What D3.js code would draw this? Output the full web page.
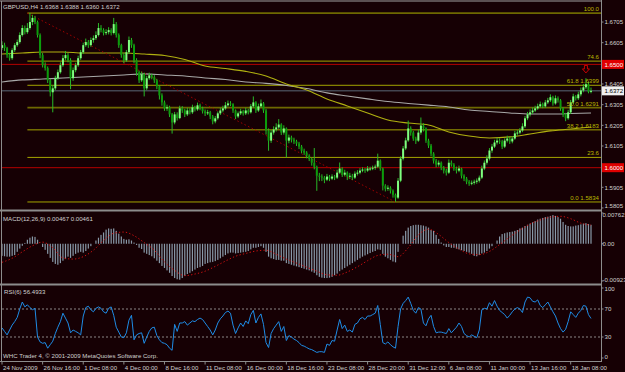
<!DOCTYPE html>
<html>
<head>
<meta charset="utf-8">
<script src="https://d3js.org/d3.v7.min.js"></script>
<style>
  html, body { margin: 0; padding: 0; background: #160004; }
  svg { display: block; font-family: "Liberation Sans", Arial, sans-serif; }
</style>
</head>
<body>
<div id="chart"></div>
<script>
// ---- data (GBPUSD H4, 24 Nov 2009 - 19 Jan 2010) ----
const firstOpen = 1.6580;

const closes = [
  1.6593,1.6579,1.6545,1.6530,1.6569,1.6593,1.6608,1.6642,1.6676,1.6656,
  1.6676,1.6705,1.6725,1.6705,1.6642,1.6545,1.6496,1.6482,1.6423,1.6365,
  1.6384,1.6433,1.6462,1.6496,1.6530,1.6545,1.6520,1.6433,1.6472,1.6496,
  1.6530,1.6559,1.6593,1.6608,1.6593,1.6618,1.6627,1.6642,1.6676,1.6666,
  1.6652,1.6656,1.6666,1.6652,1.6695,1.6642,1.6593,1.6545,1.6520,1.6559,
  1.6618,1.6593,1.6520,1.6462,1.6423,1.6452,1.6384,1.6433,1.6447,1.6438,
  1.6423,1.6394,1.6350,1.6316,1.6287,1.6292,1.6258,1.6219,1.6258,1.6240,
  1.6287,1.6277,1.6258,1.6277,1.6268,1.6292,1.6282,1.6302,1.6287,1.6273,
  1.6263,1.6268,1.6248,1.6224,1.6239,1.6263,1.6277,1.6287,1.6302,1.6311,
  1.6307,1.6277,1.6248,1.6263,1.6273,1.6263,1.6277,1.6268,1.6297,1.6316,
  1.6277,1.6297,1.6311,1.6277,1.6180,1.6131,1.6170,1.6185,1.6195,1.6209,
  1.6170,1.6190,1.6131,1.6146,1.6136,1.6127,1.6117,1.6102,1.6082,1.6073,
  1.6058,1.6043,1.6024,1.6004,1.5961,1.5957,1.5952,1.5942,1.5957,1.5947,
  1.5957,1.5952,1.5976,1.5996,1.5966,1.5976,1.5957,1.5961,1.5952,1.5971,
  1.5976,1.5986,1.5991,1.5986,1.5996,1.5996,1.6000,1.6005,1.6034,1.5996,
  1.5913,1.5898,1.5903,1.5889,1.5869,1.5855,1.5937,1.6044,1.6093,1.6132,
  1.6190,1.6170,1.6141,1.6131,1.6170,1.6204,1.6190,1.6131,1.6107,1.6068,
  1.6034,1.6015,1.6024,1.6000,1.5986,1.5976,1.6024,1.6015,1.5996,1.5986,
  1.5996,1.5961,1.5947,1.5932,1.5923,1.5927,1.5932,1.5937,1.5952,1.5996,
  1.6024,1.6044,1.6083,1.6102,1.6122,1.6131,1.6127,1.6102,1.6131,1.6141,
  1.6127,1.6141,1.6166,1.6170,1.6180,1.6200,1.6239,1.6258,1.6268,1.6277,
  1.6287,1.6297,1.6307,1.6297,1.6316,1.6326,1.6341,1.6311,1.6336,1.6326,
  1.6287,1.6258,1.6239,1.6268,1.6316,1.6345,1.6336,1.6355,1.6374,1.6389,
  1.6404,1.6368,1.6372
];

const highs = [
  1.6612,1.6605,1.6585,1.6556,1.6578,1.6603,1.6620,1.6655,1.6690,1.6688,
  1.6700,1.6749,1.6740,1.6735,1.6712,1.6650,1.6555,1.6510,1.6490,1.6430,
  1.6400,1.6445,1.6475,1.6510,1.6545,1.6565,1.6555,1.6530,1.6485,1.6508,
  1.6542,1.6570,1.6605,1.6625,1.6618,1.6630,1.6640,1.6660,1.6700,1.6690,
  1.6675,1.6670,1.6680,1.6675,1.6725,1.6705,1.6650,1.6600,1.6555,1.6570,
  1.6635,1.6628,1.6600,1.6530,1.6470,1.6465,1.6460,1.6445,1.6460,1.6455,
  1.6448,1.6430,1.6400,1.6360,1.6325,1.6305,1.6300,1.6265,1.6270,1.6268,
  1.6300,1.6298,1.6285,1.6290,1.6288,1.6305,1.6300,1.6315,1.6310,1.6295,
  1.6282,1.6280,1.6275,1.6255,1.6250,1.6272,1.6290,1.6300,1.6318,1.6325,
  1.6322,1.6312,1.6282,1.6272,1.6285,1.6280,1.6290,1.6285,1.6308,1.6345,
  1.6322,1.6310,1.6330,1.6318,1.6285,1.6190,1.6182,1.6200,1.6215,1.6235,
  1.6215,1.6205,1.6195,1.6160,1.6155,1.6145,1.6135,1.6125,1.6110,1.6092,
  1.6080,1.6065,1.6050,1.6095,1.6010,1.5975,1.5968,1.5960,1.5970,1.5965,
  1.5968,1.5965,1.5990,1.6025,1.6002,1.5990,1.5982,1.5975,1.5970,1.5982,
  1.5988,1.5998,1.6002,1.5998,1.6008,1.6005,1.6010,1.6015,1.6068,1.6040,
  1.6000,1.5920,1.5915,1.5910,1.5895,1.5875,1.5950,1.6055,1.6105,1.6145,
  1.6228,1.6200,1.6178,1.6150,1.6185,1.6243,1.6215,1.6195,1.6140,1.6115,
  1.6075,1.6042,1.6035,1.6030,1.6008,1.5995,1.6040,1.6035,1.6022,1.6005,
  1.6010,1.6000,1.5968,1.5955,1.5940,1.5938,1.5942,1.5948,1.5962,1.6010,
  1.6035,1.6060,1.6095,1.6115,1.6135,1.6145,1.6142,1.6135,1.6142,1.6155,
  1.6150,1.6152,1.6178,1.6182,1.6192,1.6215,1.6250,1.6270,1.6282,1.6292,
  1.6300,1.6310,1.6320,1.6315,1.6328,1.6338,1.6355,1.6348,1.6350,1.6345,
  1.6332,1.6292,1.6265,1.6280,1.6328,1.6358,1.6352,1.6368,1.6388,1.6405,
  1.6433,1.6415,1.6388
];

const lows = [
  1.6570,1.6565,1.6532,1.6518,1.6522,1.6560,1.6585,1.6600,1.6635,1.6645,
  1.6648,1.6668,1.6690,1.6695,1.6630,1.6530,1.6485,1.6470,1.6410,1.6345,
  1.6268,1.6375,1.6425,1.6455,1.6488,1.6520,1.6510,1.6380,1.6420,1.6462,
  1.6488,1.6522,1.6550,1.6585,1.6580,1.6585,1.6605,1.6618,1.6635,1.6655,
  1.6640,1.6642,1.6645,1.6640,1.6645,1.6630,1.6580,1.6532,1.6505,1.6512,
  1.6550,1.6580,1.6505,1.6445,1.6410,1.6415,1.6345,1.6375,1.6425,1.6428,
  1.6410,1.6380,1.6330,1.6300,1.6275,1.6275,1.6245,1.6165,1.6210,1.6228,
  1.6235,1.6265,1.6245,1.6250,1.6258,1.6260,1.6272,1.6275,1.6278,1.6262,
  1.6250,1.6255,1.6235,1.6210,1.6215,1.6232,1.6255,1.6268,1.6280,1.6295,
  1.6298,1.6265,1.6235,1.6240,1.6255,1.6252,1.6255,1.6258,1.6262,1.6290,
  1.6265,1.6270,1.6290,1.6265,1.6160,1.6082,1.6120,1.6160,1.6175,1.6188,
  1.6158,1.6160,1.6049,1.6118,1.6122,1.6115,1.6105,1.6090,1.6070,1.6062,
  1.6045,1.6032,1.6010,1.5992,1.5888,1.5935,1.5935,1.5925,1.5935,1.5935,
  1.5940,1.5940,1.5945,1.5970,1.5955,1.5958,1.5940,1.5945,1.5940,1.5945,
  1.5962,1.5968,1.5978,1.5975,1.5980,1.5985,1.5988,1.5990,1.5998,1.5985,
  1.5890,1.5885,1.5888,1.5875,1.5855,1.5834,1.5848,1.5930,1.6035,1.6085,
  1.6125,1.6155,1.6130,1.6115,1.6125,1.6160,1.6175,1.6120,1.6095,1.6055,
  1.6020,1.6002,1.6005,1.5988,1.5972,1.5962,1.5970,1.6005,1.5985,1.5972,
  1.5978,1.5948,1.5935,1.5920,1.5912,1.5915,1.5918,1.5922,1.5928,1.5945,
  1.5988,1.6015,1.6035,1.6072,1.6095,1.6112,1.6115,1.6090,1.6095,1.6122,
  1.6115,1.6118,1.6135,1.6155,1.6162,1.6172,1.6192,1.6230,1.6248,1.6260,
  1.6270,1.6280,1.6290,1.6288,1.6290,1.6308,1.6318,1.6300,1.6305,1.6315,
  1.6275,1.6245,1.6225,1.6232,1.6260,1.6308,1.6325,1.6328,1.6345,1.6365,
  1.6380,1.6360,1.6360
];

// moving averages, one value every 8 bars
const maStep = 8;
const maYellow = [1.6550,1.6555,1.6560,1.6560,1.6555,1.6555,1.6555,1.6550,1.6543,1.6524,
  1.6492,1.6480,1.6466,1.6444,1.6405,1.6376,1.6333,1.6299,1.6265,1.6231,
  1.6216,1.6207,1.6173,1.6153,1.6144,1.6149,1.6163,1.6178,1.6187,1.6197];
const maGray = [1.6415,1.6425,1.6429,1.6434,1.6439,1.6444,1.6449,1.6454,1.6449,1.6444,
  1.6434,1.6427,1.6415,1.6408,1.6398,1.6383,1.6362,1.6347,1.6333,1.6320,
  1.6311,1.6303,1.6294,1.6279,1.6272,1.6265,1.6260,1.6260,1.6262,1.6265];

// Fibonacci retracement
const fibStartBar = 10, fibEndBar = 155;
const fibHigh = 1.6748, fibLow = 1.5834;
const fibLevels = [0, 23.6, 38.2, 50, 61.8, 74.6, 100];
const fibLabels = ["0.0 1.5834", "23.6", "38.2 1.6183", "50.0 1.6291", "61.8 1.6399", "74.6", "100.0"];

const redLevels = [1.6500, 1.6000];
const bidPrice = 1.6372;
const arrowBar = 230, arrowPrice = 1.6495;

// MACD(12,26,9)
const macd = [
  -0.0030,-0.0031,-0.0032,-0.0032,-0.0030,-0.0028,-0.0020,-0.0012,-0.0005,0.0002,
  0.0010,0.0015,0.0018,0.0017,0.0010,0.0000,-0.0008,-0.0015,-0.0025,-0.0035,
  -0.0045,-0.0050,-0.0052,-0.0048,-0.0042,-0.0038,-0.0032,-0.0035,-0.0030,-0.0025,
  -0.0022,-0.0020,-0.0022,-0.0018,-0.0012,-0.0006,0.0000,0.0008,0.0015,0.0022,
  0.0028,0.0035,0.0038,0.0037,0.0038,0.0032,0.0025,0.0018,0.0012,0.0010,
  0.0011,0.0008,0.0003,-0.0003,-0.0010,-0.0013,-0.0022,-0.0025,-0.0028,-0.0031,
  -0.0036,-0.0042,-0.0048,-0.0055,-0.0060,-0.0066,-0.0072,-0.0080,-0.0085,-0.0088,
  -0.0089,-0.0085,-0.0080,-0.0075,-0.0072,-0.0068,-0.0064,-0.0060,-0.0058,-0.0055,
  -0.0050,-0.0048,-0.0046,-0.0045,-0.0043,-0.0040,-0.0036,-0.0032,-0.0028,-0.0024,
  -0.0022,-0.0022,-0.0024,-0.0023,-0.0022,-0.0021,-0.0020,-0.0018,-0.0014,-0.0010,
  -0.0010,-0.0008,-0.0006,-0.0010,-0.0020,-0.0032,-0.0036,-0.0038,-0.0040,-0.0040,
  -0.0042,-0.0042,-0.0048,-0.0050,-0.0052,-0.0054,-0.0056,-0.0058,-0.0060,-0.0062,
  -0.0064,-0.0066,-0.0069,-0.0072,-0.0078,-0.0082,-0.0084,-0.0085,-0.0085,-0.0084,
  -0.0082,-0.0078,-0.0074,-0.0068,-0.0064,-0.0060,-0.0056,-0.0052,-0.0048,-0.0044,
  -0.0040,-0.0036,-0.0032,-0.0029,-0.0026,-0.0023,-0.0020,-0.0018,-0.0014,-0.0015,
  -0.0025,-0.0032,-0.0036,-0.0040,-0.0044,-0.0046,-0.0020,0.0000,0.0020,0.0032,
  0.0040,0.0044,0.0046,0.0047,0.0047,0.0046,0.0045,0.0043,0.0040,0.0034,
  0.0032,0.0022,0.0012,0.0003,-0.0004,-0.0008,-0.0008,-0.0010,-0.0010,-0.0012,
  -0.0014,-0.0016,-0.0018,-0.0020,-0.0022,-0.0025,-0.0030,-0.0031,-0.0028,-0.0024,
  -0.0022,-0.0018,-0.0012,-0.0006,0.0000,0.0008,0.0018,0.0024,0.0026,0.0028,
  0.0029,0.0030,0.0032,0.0034,0.0038,0.0040,0.0044,0.0047,0.0050,0.0053,
  0.0056,0.0060,0.0062,0.0064,0.0066,0.0067,0.0069,0.0071,0.0069,0.0066,
  0.0062,0.0054,0.0047,0.0044,0.0043,0.0043,0.0045,0.0046,0.0048,0.0050,
  0.0051,0.0049,0.0047
];
// signal line, one value every 4 bars
const signalStep = 4;
const signal = [
  -0.0046,-0.0036,-0.0020,-0.0005,0.0004,-0.0010,-0.0035,-0.0038,-0.0032,-0.0016,
  0.0008,0.0026,0.0029,0.0020,0.0003,-0.0016,-0.0045,-0.0066,-0.0079,-0.0075,
  -0.0068,-0.0056,-0.0043,-0.0031,-0.0024,-0.0018,-0.0016,-0.0026,-0.0038,-0.0048,
  -0.0058,-0.0068,-0.0077,-0.0078,-0.0070,-0.0057,-0.0042,-0.0029,-0.0026,-0.0032,
  -0.0010,0.0022,0.0036,0.0023,0.0003,-0.0013,-0.0025,-0.0027,-0.0019,-0.0002,
  0.0017,0.0034,0.0049,0.0059,0.0066,0.0068,0.0062,0.0051,0.0046
];
const macdTicks = [0.00762, 0, -0.00923];
const macdTickLabels = ["0.00762", "0.00", "-0.00923"];

// RSI(6)
const rsi = [
  43,38,33,40,47,52,58,70,80,73, 76,72,69,71,30,23,21,22,14,19,
  24,35,44,52,64,57,50,36,40,38, 36,33,60,72,74,69,66,71,73,71,
  66,64,71,73,61,44,37,30,29,36, 54,61,26,33,35,36,21,30,38,43,
  44,32,26,22,21,19,14,11,48,38, 50,50,52,47,50,53,52,55,57,55,
  50,45,40,33,40,50,56,60,65,67, 64,47,35,43,50,45,53,49,62,68,
  50,58,63,48,22,15,35,42,47,52, 38,45,25,32,30,27,25,22,18,17,
  15,13,12,10,8,9,9,8,20,18, 25,24,40,55,42,47,38,40,37,48,
  50,56,58,55,60,60,62,64,75,48, 22,20,23,19,16,14,45,70,78,82,
  87,78,68,64,72,70,50,46,56,61, 45,36,37,37,36,35,42,36,40,44,
  50,45,35,32,30,33,31,29,40,69, 71,70,79,74,82,74,68,65,62,57,
  61,66,70,72,70,65,80,87,86,81, 80,83,75,72,76,80,73,66,60,50,
  42,37,41,52,66,62,58,64,68,75, 74,62,56.49
];
const rsiLevels = [70, 30];
const rsiTicks = [100, 70, 30, 0];

const priceTicks = [1.6705, 1.6605, 1.6405, 1.6305, 1.6205, 1.6105, 1.5905, 1.5805];
const dateLabelStep = 16;
const dateLabels = ["24 Nov 2009", "26 Nov 16:00", "1 Dec 08:00", "4 Dec 00:00", "8 Dec 16:00",
  "11 Dec 08:00", "16 Dec 00:00", "18 Dec 16:00", "23 Dec 08:00", "28 Dec 20:00",
  "31 Dec 12:00", "6 Jan 08:00", "11 Jan 00:00", "13 Jan 16:00", "18 Jan 08:00"];

const titleText = "GBPUSD,H4 1.6368 1.6388 1.6360 1.6372";
const macdText = "MACD(12,26,9) 0.00467 0.00461";
const rsiText = "RSI(6) 56.4933";
const copyText = "WHC Trader 4, \u00A9 2001-2009 MetaQuotes Software Corp.";

// ---- layout ----
const W = 625, H = 372;
const axisX = 601;
const fs = 6.1;
const bg = "#160004", txt = "#d0d0d0";

const svg = d3.select("#chart").append("svg")
  .attr("width", W).attr("height", H)
  .style("font-size", fs + "px");

svg.append("rect").attr("width", W).attr("height", H).attr("fill", bg);

// scales
const n = closes.length;
const x = d3.scaleLinear().domain([0, n - 1]).range([2, 591]);
const yP = d3.scaleLinear().domain([1.5800, 1.6802]).range([209, 2]);
const yM = d3.scaleLinear().domain([-0.00923, 0.00762]).range([281, 213]);
const yR = d3.scaleLinear().domain([0, 100]).range([358, 288]);

// clip areas
const defs = svg.append("defs");
[["clipMain", 2, 209], ["clipMacd", 212, 283], ["clipRsi", 286, 360]].forEach(([id, t, b]) => {
  defs.append("clipPath").attr("id", id)
    .append("rect").attr("x", 2).attr("y", t).attr("width", axisX - 2).attr("height", b - t);
});

// ---------- main panel ----------
const main = svg.append("g").attr("clip-path", "url(#clipMain)");

// red price levels
main.selectAll(".red").data(redLevels).join("line")
  .attr("x1", 2).attr("x2", axisX)
  .attr("y1", d => yP(d)).attr("y2", d => yP(d))
  .attr("stroke", "#b40000").attr("stroke-width", 1);

// fibonacci levels
const fibPrice = l => fibLow + (fibHigh - fibLow) * l / 100;
main.selectAll(".fib").data(fibLevels).join("line")
  .attr("x1", x(fibStartBar)).attr("x2", axisX)
  .attr("y1", d => yP(fibPrice(d))).attr("y2", d => yP(fibPrice(d)))
  .attr("stroke", d => (d === 50 || d === 100) ? "#6e6800" : "#a4a400")
  .attr("stroke-width", d => (d === 50 || d === 100) ? 1.8 : 1);

// bid line
main.append("line")
  .attr("x1", 2).attr("x2", axisX)
  .attr("y1", yP(bidPrice)).attr("y2", yP(bidPrice))
  .attr("stroke", "#5a6878").attr("stroke-width", 1);

// moving averages
const maLine = d3.line()
  .x((d, i) => x(Math.min(i * maStep, n - 1)))
  .y(d => yP(d))
  .curve(d3.curveMonotoneX);
main.append("path").attr("d", maLine(maGray))
  .attr("fill", "none").attr("stroke", "#a8a8a8").attr("stroke-width", 1.1);
main.append("path").attr("d", maLine(maYellow))
  .attr("fill", "none").attr("stroke", "#b0b010").attr("stroke-width", 1.1);

// fibonacci trend line
main.append("line")
  .attr("x1", x(fibStartBar)).attr("y1", yP(fibHigh))
  .attr("x2", x(fibEndBar)).attr("y2", yP(fibLow))
  .attr("stroke", "#a00000").attr("stroke-width", 1)
  .attr("stroke-dasharray", "1.5,2.5");

// candles
const candles = closes.map((c, i) => ({
  i, o: i ? closes[i - 1] : firstOpen, h: highs[i], l: lows[i], c
}));
const cg = main.append("g");
cg.selectAll("line").data(candles).join("line")
  .attr("x1", d => x(d.i)).attr("x2", d => x(d.i))
  .attr("y1", d => yP(d.h)).attr("y2", d => yP(d.l))
  .attr("stroke", "#28b828").attr("stroke-width", 1);
cg.selectAll("rect").data(candles).join("rect")
  .attr("x", d => x(d.i) - 1)
  .attr("width", 2)
  .attr("y", d => yP(Math.max(d.o, d.c)))
  .attr("height", d => Math.max(1, Math.abs(yP(d.o) - yP(d.c))))
  .attr("fill", d => d.c >= d.o ? "#80ff80" : "#0c9c0c");

// arrow object
const ax = x(arrowBar), ay = yP(arrowPrice);
main.append("path")
  .attr("d", `M${ax - 1.5},${ay} h3 v3.5 h2 l-3.5,4 l-3.5,-4 h2 Z`)
  .attr("fill", "none").attr("stroke", "#e00000").attr("stroke-width", 0.9);

// fib labels
svg.selectAll(".fibtxt").data(fibLevels).join("text")
  .attr("x", axisX - 2).attr("y", d => yP(fibPrice(d)) - 2)
  .attr("text-anchor", "end").attr("fill", "#b8b800")
  .text((d, i) => fibLabels[i]);

// title
svg.append("text").attr("x", 3).attr("y", 8.5).attr("fill", txt).text(titleText);

// ---------- MACD panel ----------
const mg = svg.append("g").attr("clip-path", "url(#clipMacd)");
mg.selectAll("rect").data(macd).join("rect")
  .attr("x", (d, i) => x(i) - 0.6).attr("width", 1.2)
  .attr("y", d => yM(Math.max(0, d)))
  .attr("height", d => Math.abs(yM(d) - yM(0)))
  .attr("fill", "#8898a8");
mg.append("path")
  .attr("d", d3.line().x((d, i) => x(i * signalStep)).y(d => yM(d)).curve(d3.curveMonotoneX)(signal))
  .attr("fill", "none").attr("stroke", "#d01010").attr("stroke-width", 1)
  .attr("stroke-dasharray", "1.3,2.2");
svg.append("text").attr("x", 3).attr("y", 221).attr("fill", txt).text(macdText);

// ---------- RSI panel ----------
const rg = svg.append("g").attr("clip-path", "url(#clipRsi)");
rg.selectAll("line").data(rsiLevels).join("line")
  .attr("x1", 2).attr("x2", axisX)
  .attr("y1", d => yR(d)).attr("y2", d => yR(d))
  .attr("stroke", "#a8a8a8").attr("stroke-width", 0.8)
  .attr("stroke-dasharray", "2,2");
rg.append("path")
  .attr("d", d3.line().x((d, i) => x(i)).y(d => yR(d))(rsi))
  .attr("fill", "none").attr("stroke", "#1e8ce6").attr("stroke-width", 1);
svg.append("text").attr("x", 4).attr("y", 294).attr("fill", txt).text(rsiText);
svg.append("text").attr("x", 3).attr("y", 358).attr("fill", txt).text(copyText);

// ---------- frame & separators ----------
const frame = svg.append("g").attr("stroke", "#8c8c8c").attr("fill", "none");
frame.append("line").attr("x1", 0).attr("x2", axisX).attr("y1", 1).attr("y2", 1).attr("stroke", "#a0a0a0");
frame.append("line").attr("x1", 1.5).attr("x2", 1.5).attr("y1", 1).attr("y2", 361);
frame.append("line").attr("x1", axisX + 0.5).attr("x2", axisX + 0.5).attr("y1", 0).attr("y2", 362);
[210.5, 284.5].forEach(yy => {
  frame.append("line").attr("x1", 0).attr("x2", axisX).attr("y1", yy).attr("y2", yy).attr("stroke-width", 2);
});
frame.append("line").attr("x1", 0).attr("x2", axisX).attr("y1", 361.5).attr("y2", 361.5);

// ---------- right axes ----------
const rightAxis = (ticks, scale, labels, yMin, yMax, dx) => {
  const g = svg.append("g");
  g.selectAll("line").data(ticks).join("line")
    .attr("x1", axisX).attr("x2", axisX + 2.5)
    .attr("y1", d => scale(d)).attr("y2", d => scale(d))
    .attr("stroke", "#8c8c8c");
  g.selectAll("text").data(ticks).join("text")
    .attr("x", axisX + dx)
    .attr("y", d => Math.min(yMax, Math.max(yMin, scale(d))) + 2.2)
    .attr("fill", txt)
    .text((d, i) => labels ? labels[i] : d.toFixed(4));
};
rightAxis(priceTicks, yP, null, 4, 205.5, 3.5);
rightAxis(macdTicks, yM, macdTickLabels, 214.5, 280, 1.5);
rightAxis(rsiTicks, yR, rsiTicks.map(String), 289, 357, 3.5);

// price boxes
const box = (price, fill, color) => {
  const yy = yP(price);
  svg.append("rect").attr("x", axisX + 1).attr("y", yy - 4.5)
    .attr("width", 22).attr("height", 9).attr("fill", fill);
  svg.append("text").attr("x", axisX + 3.5).attr("y", yy + 2.2)
    .attr("fill", color).text(price.toFixed(4));
};
redLevels.forEach(p => box(p, "#e00000", "#ffffff"));
box(bidPrice, "#f0f0f0", "#000000");

// ---------- date axis ----------
const dg = svg.append("g");
const dateBars = dateLabels.map((d, k) => k * dateLabelStep);
dg.selectAll("line").data(dateBars).join("line")
  .attr("x1", d => x(d)).attr("x2", d => x(d))
  .attr("y1", 361).attr("y2", 364.5)
  .attr("stroke", "#8c8c8c");
dg.selectAll("text").data(dateBars).join("text")
  .attr("x", d => x(d) + 1).attr("y", 370)
  .attr("fill", txt)
  .text((d, k) => dateLabels[k]);
</script>
</body>
</html>
